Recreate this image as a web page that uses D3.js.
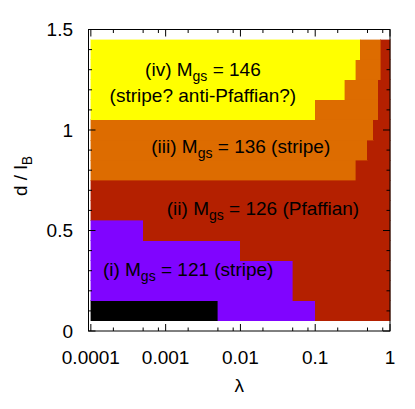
<!DOCTYPE html>
<html><head><meta charset="utf-8">
<script src="https://cdn.jsdelivr.net/npm/d3@7"></script>
<style>
body{margin:0;background:#fff}
svg{display:block}
text{font-family:"Liberation Sans",Arial,Helvetica,sans-serif;fill:#000}
</style>
</head><body>
<script>
// ---- data ----
const phaseNames  = ["none", "121", "126", "136", "146"];
const phaseColors = ["#000000", "#8004ff", "#b42000", "#dd6c00", "#ffff00"];
const dRows = [0.1, 0.2, 0.3, 0.4, 0.5, 0.6, 0.7, 0.8, 0.9, 1.0, 1.1, 1.2, 1.3, 1.4];
// phase index sequence along λ in each row
const rowPhases = [
  [0, 1, 2], [1, 2], [1, 2], [1, 2], [1, 2], [2], [2],
  [3, 2], [3, 2], [3, 2], [4, 3, 2], [4, 3, 2], [4, 3, 2], [4, 3, 2]
];
// λ where the phase changes in each row
const rowBounds = [
  [0.005, 0.1], [0.05], [0.05], [0.01], [0.0005], [], [],
  [0.35], [0.5], [0.6], [0.1, 0.7], [0.25, 0.7], [0.35, 0.75], [0.4, 0.75]
];
const lambdaMin = 1e-4, lambdaMax = 1, dStep = 0.1;
const xTickValues = [1e-4, 1e-3, 1e-2, 1e-1, 1];
const xTickLabels = ["0.0001", "0.001", "0.01", "0.1", "1"];
const xMinorFactors = [2, 5, 8];
const yTickValues = [0, 0.5, 1, 1.5];
const yTickLabels = ["0", "0.5", "1", "1.5"];
const yMinorValues = [0.1,0.2,0.3,0.4,0.6,0.7,0.8,0.9,1.1,1.2,1.3,1.4];
const labelTexts = [
  {pre: "(iv) M", sub: "gs", post: " = 146"},
  {pre: "(stripe? anti-Pfaffian?)", sub: "", post: ""},
  {pre: "(iii) M", sub: "gs", post: " = 136 (stripe)"},
  {pre: "(ii) M", sub: "gs", post: " = 126 (Pfaffian)"},
  {pre: "(i) M", sub: "gs", post: " = 121 (stripe)"}
];
const labelLambda = [0.00315, 0.00315, 0.0101, 0.02, 0.002];
const labelD      = [1.27, 1.14, 0.886, 0.577, 0.274];

// ---- layout ----
const W = 415, H = 409;
const x = d3.scaleLog().domain([9.3e-5, 1]).range([88.5, 390]);
const y = d3.scaleLinear().domain([0, 1.5]).range([331, 29.5]);
const svg = d3.select("body").append("svg").attr("width", W).attr("height", H);

// cells
const cells = [];
dRows.forEach((dv, i) => {
  const edges = [lambdaMin, ...rowBounds[i], lambdaMax];
  rowPhases[i].forEach((p, j) => {
    cells.push({d0: dv - dStep/2, d1: dv + dStep/2, l0: edges[j], l1: edges[j+1], p});
  });
});
svg.append("g").selectAll("rect").data(cells).join("rect")
  .attr("x", c => x(c.l0))
  .attr("width", c => x(c.l1) - x(c.l0))
  .attr("y", c => y(c.d1))
  .attr("height", c => y(c.d0) - y(c.d1))
  .attr("fill", c => phaseColors[c.p])
  .attr("stroke", c => phaseColors[c.p])
  .attr("stroke-width", 0.4)
  .attr("shape-rendering", "crispEdges");

// frame
const fx0 = x.range()[0], fx1 = x.range()[1], fy0 = y.range()[1], fy1 = y.range()[0];
svg.append("rect").attr("x", fx0).attr("y", fy0).attr("width", fx1 - fx0).attr("height", fy1 - fy0)
  .attr("fill", "none").attr("stroke", "#000").attr("stroke-width", 1);

// ticks
const tg = svg.append("g").attr("stroke", "#000").attr("stroke-width", 1);
const majorLen = 7, minorLen = 3.5;
const xMinor = [];
xTickValues.slice(0, -1).forEach(v => xMinorFactors.forEach(f => xMinor.push(v * f)));
xTickValues.forEach(v => {
  tg.append("line").attr("x1", x(v)).attr("x2", x(v)).attr("y1", fy1).attr("y2", fy1 - majorLen);
  tg.append("line").attr("x1", x(v)).attr("x2", x(v)).attr("y1", fy0).attr("y2", fy0 + majorLen);
});
xMinor.forEach(v => {
  tg.append("line").attr("x1", x(v)).attr("x2", x(v)).attr("y1", fy1).attr("y2", fy1 - minorLen);
  tg.append("line").attr("x1", x(v)).attr("x2", x(v)).attr("y1", fy0).attr("y2", fy0 + minorLen);
});
yTickValues.forEach(v => {
  tg.append("line").attr("y1", y(v)).attr("y2", y(v)).attr("x1", fx0).attr("x2", fx0 + majorLen);
  tg.append("line").attr("y1", y(v)).attr("y2", y(v)).attr("x1", fx1).attr("x2", fx1 - majorLen);
});
yMinorValues.forEach(v => {
  tg.append("line").attr("y1", y(v)).attr("y2", y(v)).attr("x1", fx0).attr("x2", fx0 + minorLen);
  tg.append("line").attr("y1", y(v)).attr("y2", y(v)).attr("x1", fx1).attr("x2", fx1 - minorLen);
});

// tick labels
const fs = 19, fsSub = 14, subShift = 5;
svg.append("g").selectAll("text").data(xTickValues).join("text")
  .attr("x", v => x(v)).attr("y", 363.5).attr("text-anchor", "middle")
  .attr("font-size", fs).text((v, i) => xTickLabels[i]);
svg.append("g").selectAll("text").data(yTickValues).join("text")
  .attr("x", 73).attr("y", v => y(v)).attr("dy", "0.35em").attr("text-anchor", "end")
  .attr("font-size", fs).text((v, i) => yTickLabels[i]);

// axis titles
svg.append("text").attr("x", (fx0 + fx1) / 2).attr("y", 392).attr("text-anchor", "middle")
  .attr("font-size", fs).text("λ");
const yt = svg.append("text").attr("transform", "translate(27,176) rotate(-90)")
  .attr("text-anchor", "middle").attr("font-size", fs);
yt.append("tspan").text("d / l");
yt.append("tspan").attr("font-size", fsSub).attr("dy", subShift).text("B");

// region labels
labelTexts.forEach((t, i) => {
  const tx = svg.append("text").attr("x", x(labelLambda[i])).attr("y", y(labelD[i]))
    .attr("text-anchor", "middle").attr("font-size", fs);
  tx.append("tspan").text(t.pre);
  if (t.sub) {
    tx.append("tspan").attr("font-size", fsSub).attr("dy", subShift).text(t.sub);
    tx.append("tspan").attr("dy", -subShift).text(t.post);
  }
});
</script>
</body></html>
